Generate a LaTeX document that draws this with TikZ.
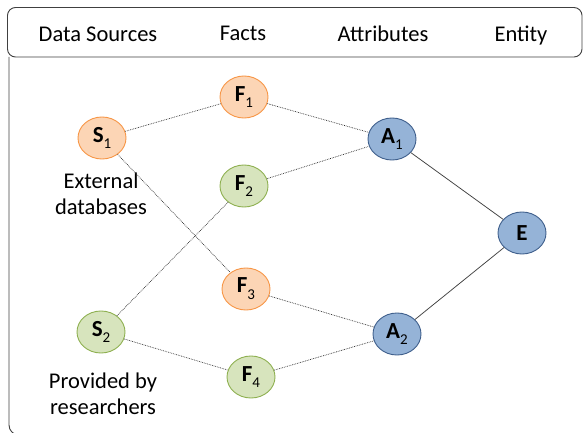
\documentclass[tikz,border=0pt]{standalone}
\usepackage{fontspec}
\setmainfont{Carlito}
\usetikzlibrary{shapes.geometric}

\definecolor{orfill}{HTML}{FCD5B5}
\definecolor{ordraw}{HTML}{F79646}
\definecolor{grfill}{HTML}{D7E4BD}
\definecolor{grdraw}{HTML}{8EB050}
\definecolor{blfill}{HTML}{95B3D7}
\definecolor{bldraw}{HTML}{3F5F8C}
\definecolor{framec}{HTML}{404040}

\newcommand\nodelabel[2]{\textbf{#1}\raisebox{-0.3em}{\fontsize{15}{15}\selectfont #2}}

\tikzset{
  blob/.style={ellipse, minimum width=48pt, minimum height=42pt, inner sep=0pt,
    line width=0.9pt, font=\fontsize{23}{23}\selectfont},
  orblob/.style={blob, fill=orfill, draw=ordraw},
  grblob/.style={blob, fill=grfill, draw=grdraw},
  blblob/.style={blob, fill=blfill, draw=bldraw},
  heading/.style={font=\fontsize{22.5}{22.5}\selectfont, anchor=base},
  caption/.style={font=\fontsize{22.5}{25.5}\selectfont, align=center},
  factlink/.style={draw=black!85, line width=0.7pt, densely dotted},
  entlink/.style={draw=black!75, line width=0.75pt},
}

\begin{document}
\begin{tikzpicture}[x=1pt, y=-1pt]
  \useasboundingbox (0,0) rectangle (583,433);

  % outer frame and heading bar
  \draw[framec, line width=0.9pt, rounded corners=10pt]
    (9,57) -- (9,435) -- (640,435);
  \draw[framec, line width=0.9pt, fill=white, rounded corners=8pt]
    (7.5,7.5) rectangle (582,57);

  \node[heading] (hsrc) at (98,42) {Data Sources};
  \node[heading] (hfact) at (243,41) {Facts};
  \node[heading] (hattr) at (383,42) {Attributes};
  \node[heading] (hent) at (521,42) {Entity};

  % nodes
  \node[orblob] (S1) at (102,138) {\nodelabel{S}{1}};
  \node[grblob] (S2) at (101,332) {\nodelabel{S}{2}};
  \node[orblob] (F1) at (244,97)  {\nodelabel{F}{1}};
  \node[grblob] (F2) at (244,186) {\nodelabel{F}{2}};
  \node[orblob] (F3) at (246,289) {\nodelabel{F}{3}};
  \node[grblob] (F4) at (251,377) {\nodelabel{F}{4}};
  \node[blblob] (A1) at (392,139) {\nodelabel{A}{1}};
  \node[blblob] (A2) at (397,334) {\nodelabel{A}{2}};
  \node[blblob] (E)  at (522,233) {\textbf{E}};

  % source captions
  \node[caption] (cap1) at (101,194) {External\\databases};
  \node[caption] (cap2) at (103,394) {Provided by\\researchers};

  % connectors
  \draw[factlink] (S1) -- (F1);
  \draw[factlink] (S1) -- (F3);
  \draw[factlink] (S2) -- (F2);
  \draw[factlink] (S2) -- (F4);
  \draw[factlink] (F1) -- (A1);
  \draw[factlink] (F2) -- (A1);
  \draw[factlink] (F3) -- (A2);
  \draw[factlink] (F4) -- (A2);
  \draw[entlink] (A1) -- (E);
  \draw[entlink] (A2) -- (E);
\end{tikzpicture}
\end{document}
